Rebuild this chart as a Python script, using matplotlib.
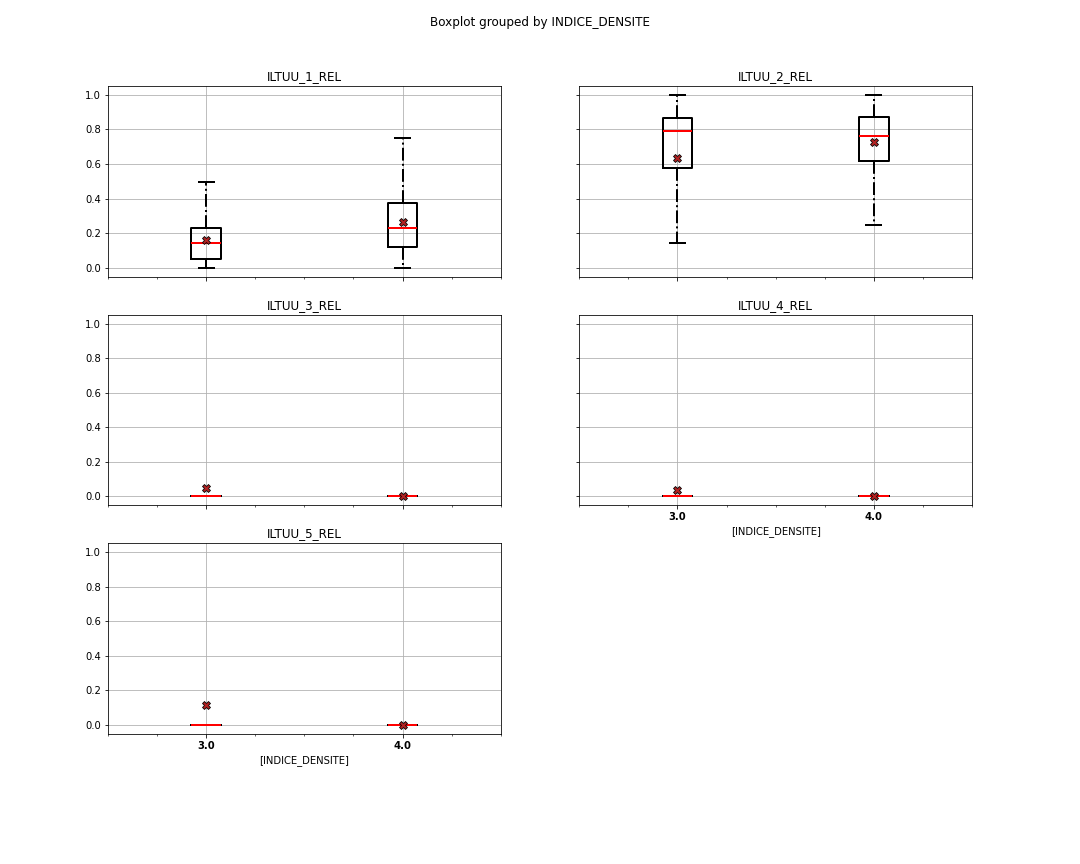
import matplotlib
matplotlib.use("Agg")
import matplotlib.pyplot as plt
from matplotlib.ticker import MultipleLocator, FixedLocator

groups = ["3.0", "4.0"]
variables = ["ILTUU_1_REL", "ILTUU_2_REL", "ILTUU_3_REL", "ILTUU_4_REL", "ILTUU_5_REL"]

# per variable: [group 3.0, group 4.0]
whislo = [[0.0, 0.0], [0.14, 0.245], [0.0, 0.0], [0.0, 0.0], [0.0, 0.0]]
q1 = [[0.052, 0.121], [0.578, 0.620], [0.0, 0.0], [0.0, 0.0], [0.0, 0.0]]
med = [[0.145, 0.231], [0.792, 0.765], [0.0, 0.0], [0.0, 0.0], [0.0, 0.0]]
q3 = [[0.231, 0.376], [0.867, 0.875], [0.0, 0.0], [0.0, 0.0], [0.0, 0.0]]
whishi = [[0.497, 0.751], [1.0, 1.0], [0.0, 0.0], [0.0, 0.0], [0.0, 0.0]]
means = [[0.162, 0.266], [0.636, 0.727], [0.046, 0.0], [0.035, 0.0], [0.116, 0.0]]

fig, axes = plt.subplots(3, 2, figsize=(15, 12), dpi=72, sharex=True, sharey=True)
fig.subplots_adjust(left=0.1, right=0.9, top=0.9005, bottom=0.1505, wspace=0.2, hspace=0.2)
fig.suptitle("Boxplot grouped by INDICE_DENSITE", fontsize=12, y=0.982)

flat = axes.ravel()
for i, name in enumerate(variables):
    ax = flat[i]
    stats = []
    for g in range(len(groups)):
        stats.append(dict(label=groups[g], whislo=whislo[i][g], q1=q1[i][g], med=med[i][g],
                          q3=q3[i][g], whishi=whishi[i][g], mean=means[i][g], fliers=[]))
    ax.bxp(stats, positions=[1, 2], widths=0.15, showmeans=True, showfliers=False,
           boxprops=dict(color="black", linewidth=2),
           whiskerprops=dict(color="black", linewidth=2, linestyle="-."),
           capprops=dict(color="black", linewidth=2),
           medianprops=dict(color="red", linewidth=2),
           meanprops=dict(marker="X", markerfacecolor="firebrick", markeredgecolor="black",
                          markersize=8, markeredgewidth=0.8))
    ax.set_title(name, fontsize=12)
    ax.grid(True, color="#b0b0b0", linewidth=0.8)
    ax.set_axisbelow(True)

flat[5].remove()
ax0 = flat[0]
ax0.set_xlim(0.5, 2.5)
ax0.set_ylim(-0.052, 1.052)
ax0.xaxis.set_major_locator(FixedLocator([1, 2]))
ax0.xaxis.set_minor_locator(MultipleLocator(0.25))
ax0.set_yticks([0.0, 0.2, 0.4, 0.6, 0.8, 1.0])

for ax in [flat[3], flat[4]]:
    ax.xaxis.set_tick_params(labelbottom=True)
    ax.set_xticks([1, 2])
    ax.set_xticklabels(groups, fontweight="bold", fontsize=10)
    ax.set_xlabel("[INDICE_DENSITE]", fontsize=10)
for ax in flat[:5]:
    ax.tick_params(axis="both", labelsize=10)

fig.savefig("out.png", dpi=72)
